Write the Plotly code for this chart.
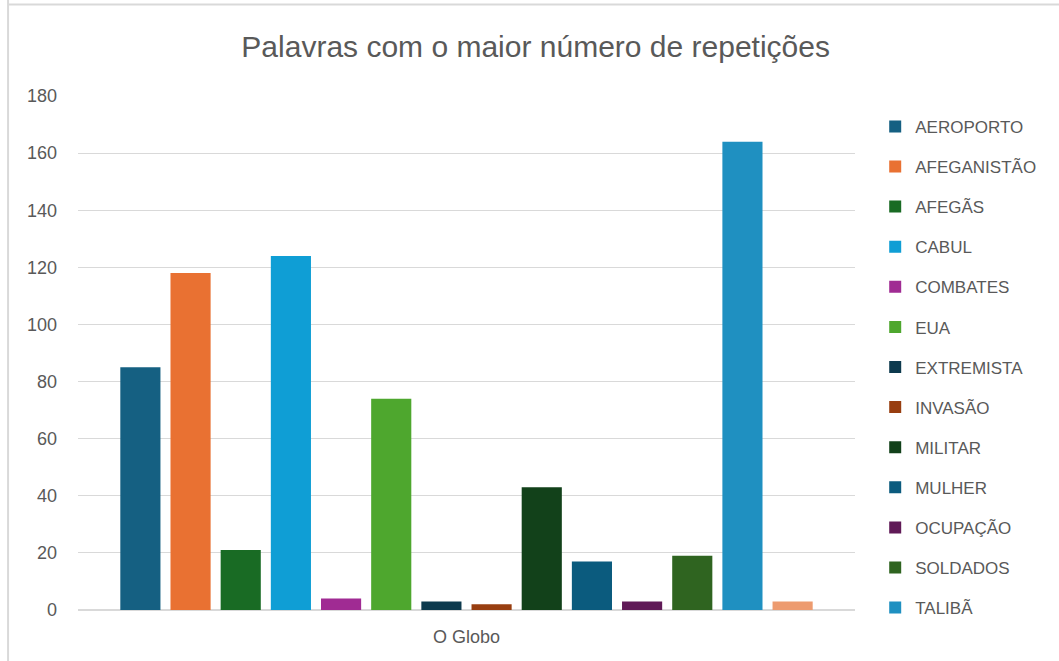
import plotly.graph_objects as go

category = ["O Globo"]
words = ["AEROPORTO", "AFEGANISTÃO", "AFEGÃS", "CABUL", "COMBATES", "EUA",
         "EXTREMISTA", "INVASÃO", "MILITAR", "MULHER", "OCUPAÇÃO", "SOLDADOS",
         "TALIBÃ", "TROPAS"]
counts = [85, 118, 21, 124, 4, 74, 3, 2, 43, 17, 3, 19, 164, 3]
colors = ["#156082", "#E97132", "#196B24", "#0F9ED5", "#A02B93", "#4EA72E",
          "#0D3A4E", "#983E10", "#12411A", "#0B5B7E", "#601A57", "#2F6420",
          "#1F90C1", "#ED9B6F"]
in_legend = [True] * 13 + [False]

fig = go.Figure()
for w, c, col, show in zip(words, counts, colors, in_legend):
    fig.add_trace(go.Bar(x=category, y=[c], name=w, marker_color=col,
                         marker_line_width=0, showlegend=show, legendgroup=w))

font_main = "Liberation Sans, Arial, sans-serif"
fig.update_layout(
    width=1059, height=661,
    paper_bgcolor="white", plot_bgcolor="white",
    margin=dict(l=78, r=204, t=96, b=51),
    barmode="group", bargap=0.096, bargroupgap=0.2,
    title=dict(text="Palavras com o maior número de repetições",
               x=0.589, xref="paper", xanchor="center", y=0.929, yanchor="middle",
               font=dict(family=font_main, size=30, color="#595959")),
    font=dict(family=font_main, size=17, color="#595959"),
    legend=dict(x=1.026, xanchor="left", y=0.975, yanchor="top",
                font=dict(size=17, color="#595959"), tracegroupgap=15,
                itemwidth=30, bgcolor="rgba(0,0,0,0)", maxheight=700),
    yaxis=dict(range=[0, 180], dtick=20, showgrid=True, gridcolor="#d9d9d9",
               gridwidth=1.3, zeroline=True, zerolinecolor="#d9d9d9", zerolinewidth=1.5,
               ticks="", showline=False, tickfont=dict(size=18, color="#595959"),
               ticklabelstandoff=20),
    xaxis=dict(showline=False, ticks="", range=[-0.5, 0.5],
               tickfont=dict(size=18, color="#595959"), ticklabelstandoff=14),
    shapes=[dict(type="line", xref="paper", yref="paper", x0=-0.090, x1=-0.090,
                 y0=-0.2, y1=1.2, line=dict(color="#d9d9d9", width=2)),
            dict(type="line", xref="paper", yref="paper", x0=-0.090, x1=1.3,
                 y0=1.178, y1=1.178, line=dict(color="#d9d9d9", width=2))],
)

fig.write_html("out.html", config={"displayModeBar": False},
               post_script="document.body.style.margin='0';")
